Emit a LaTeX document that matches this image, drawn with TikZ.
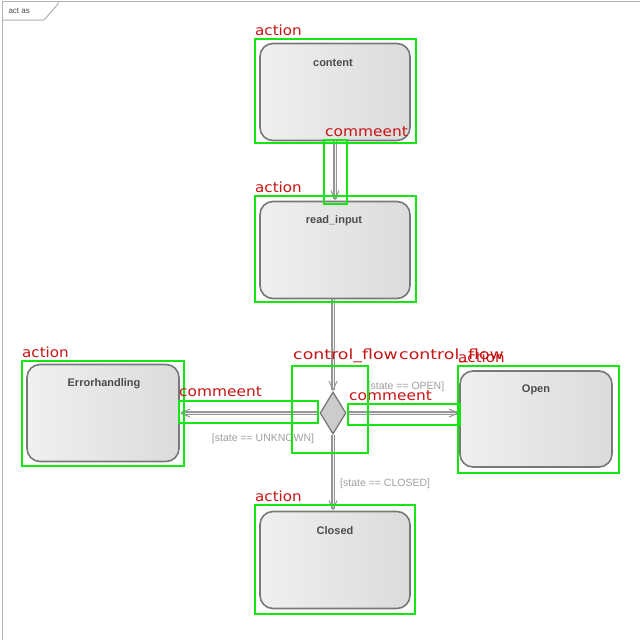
\documentclass[tikz,border=0pt]{standalone}
\usepackage{graphicx}
\usepackage{fontspec}
\setmainfont{Liberation Sans}
\newfontfamily\tagfont{DejaVu Sans}
\usetikzlibrary{arrows.meta,shapes.geometric}
\definecolor{boxedge}{RGB}{120,120,120}
\definecolor{flowgray}{RGB}{150,150,150}
\definecolor{tagred}{RGB}{200,20,20}
\definecolor{tagbox}{RGB}{20,230,20}
\newcommand{\wide}[2]{\scalebox{#1}[1]{#2}}
\tikzset{
  actbox/.style={draw=boxedge, line width=1.6pt, rounded corners=13pt,
    left color=gray!12, right color=gray!28, minimum width=150pt, minimum height=97pt,
    inner sep=0pt},
  acttext/.style={font=\bfseries\fontsize{11}{12}\selectfont, text=black!70, inner sep=0pt},
  guard/.style={font=\fontsize{10.5}{12}\selectfont, text=gray!75, inner sep=0pt},
  flow/.style={draw=flowgray, line width=1.2pt, double=gray!10, double distance=1pt,
    -{Straight Barb[length=9pt,width=8pt,line width=1pt]}},
  tag/.style={draw=tagbox, line width=2.6pt},
  tagtext/.style={font=\tagfont\fontsize{14}{15}\selectfont, text=tagred, inner sep=0pt, anchor=south west},
}
\begin{document}
\begin{tikzpicture}[x=1pt,y=-1pt]
\useasboundingbox[fill=white] (0,0) rectangle (640,640);
% activity frame with its name tab
\draw[gray!60, line width=1pt] (2,640) -- (2,1) -- (640,1);
\draw[gray!60, line width=1pt] (2,20) -- (44,20) -- (58,4) -- (58,1);
\node[font=\fontsize{8}{9}\selectfont, text=black!70, anchor=west] (frametag) at (5,11) {act as};

% actions
\node[actbox] (content) at (335,92) {};
\node[acttext] (contentT) at (333,63) {content};
\node[actbox] (readinput) at (335,250) {};
\node[acttext] (readinputT) at (334,221) {read\_input};
\node[actbox, minimum width=152pt] (error) at (103,413) {};
\node[acttext] (errorT) at (104,384) {Errorhandling};
\node[actbox, minimum width=152pt, minimum height=96pt] (open) at (536,419) {};
\node[acttext] (openT) at (536,390) {Open};
\node[actbox] (closed) at (335,560) {};
\node[acttext] (closedT) at (335,531) {Closed};

% decision
\node[diamond, draw=boxedge, line width=1.3pt, fill=gray!40, minimum width=26pt,
      minimum height=42pt, inner sep=0pt] (dec) at (333,413) {};

% control flows
\draw[flow] (content.south -| 335,0) -- (readinput.north -| 335,0);
\draw[flow] (readinput.south -| 333,0) -- (dec.north);
\draw[flow] (dec.west) -- (error.east |- dec.west);
\draw[flow] (dec.east) -- (open.west |- dec.east);
\draw[flow] (dec.south) -- (closed.north -| dec.south);
\node[guard] (gUnk) at (263,439) {[state == UNKNOWN]};
\node[guard] (gOpen) at (406,387) {[state == OPEN]};
\node[guard, anchor=west] (gClosed) at (340,484) {[state == CLOSED]};

% annotation boxes
\draw[tag] (255,39) rectangle (416,143);
\node[tagtext] (t1) at (255,36) {\wide{1.08}{action}};
\draw[tag] (255,196) rectangle (416,302);
\node[tagtext] (t2) at (255,193) {\wide{1.08}{action}};
\draw[tag] (22,361) rectangle (184,466);
\node[tagtext] (t3) at (22,358) {\wide{1.08}{action}};
\draw[tag] (458,366) rectangle (619,473);
\node[tagtext] (t4) at (458,363) {\wide{1.08}{action}};
\draw[tag] (255,505) rectangle (415,614);
\node[tagtext] (t5) at (255,502) {\wide{1.08}{action}};
\draw[tag] (324,140) rectangle (347,204);
\node[tagtext] (t6) at (325,137) {\wide{1.1}{commeent}};
\draw[tag] (179,401) rectangle (318,423);
\node[tagtext] (t7) at (179,397) {\wide{1.1}{commeent}};
\draw[tag] (348,404) rectangle (460,425);
\node[tagtext] (t8) at (349,401) {\wide{1.1}{commeent}};
\draw[tag] (292,366) rectangle (368,453);
\node[tagtext] (t9) at (293,363) {\wide{1.24}{control\_flow}};
\node[tagtext] (t10) at (399,363) {\wide{1.24}{control\_flow}};
\end{tikzpicture}
\end{document}
